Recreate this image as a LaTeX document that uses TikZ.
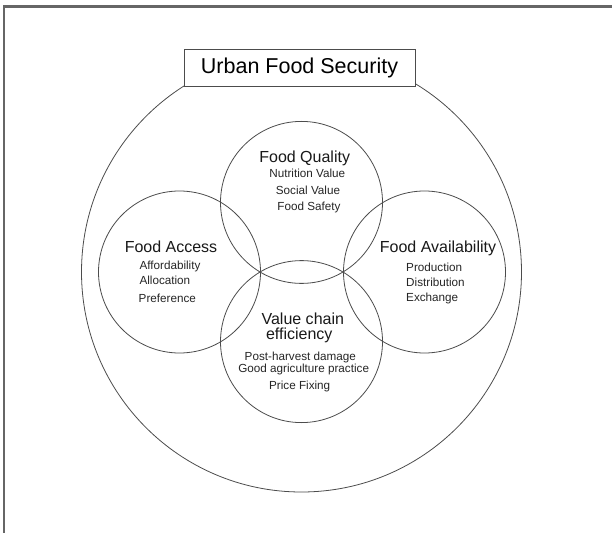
\documentclass[tikz,border=0pt]{standalone}
\usepackage{fontspec}
\setmainfont{Liberation Sans}
\begin{document}
\begin{tikzpicture}[x=1bp,y=-1bp,
  ring/.style={draw=black!70,line width=0.8bp,circle,inner sep=0pt,outer sep=0pt},
  frameline/.style={draw=black!60,line width=2.4bp},
  head/.style={text=black!90,font=\fontsize{16bp}{19bp}\selectfont,inner sep=0pt},
  item/.style={text=black!85,font=\fontsize{11.7bp}{14bp}\selectfont,inner sep=0pt},
  titlebox/.style={draw=black!70,line width=0.8bp,fill=white,minimum width=231bp,minimum height=37bp,inner sep=0pt,font=\fontsize{21.5bp}{25bp}\selectfont}
]
\useasboundingbox (0,0) rectangle (612,533);
\fill[white] (0,0) rectangle (612,533);
% frame
\coordinate (fc) at (4,6.5);
\coordinate (fr) at (612,6.5);
\coordinate (fb) at (4,533);
\draw[frameline] (fr) -- (fc) -- (fb);
% circles
\node[ring,minimum size=440bp] (outer) at (301.5,272) {};
\node[ring,minimum size=162bp] (quality) at (301.5,202.4) {};
\node[ring,minimum size=162bp] (access) at (179.5,272) {};
\node[ring,minimum size=162bp] (avail) at (424.5,272) {};
\node[ring,minimum size=162bp] (chain) at (301.5,341.6) {};
% title
\node[titlebox] (title) at (299.5,67.5) {Urban Food Security};
% Food Quality
\node[head,anchor=base] (qh) at (304.7,162.3) {Food Quality};
\node[item,anchor=base] (q1) at (307.3,177.3) {Nutrition Value};
\node[item,anchor=base] (q2) at (308,194.3) {Social Value};
\node[item,anchor=base] (q3) at (309,211) {Food Safety};
% Food Access
\node[head,anchor=base] (ah) at (171,252.7) {Food Access};
\node[item,anchor=base west] (a1) at (139.3,269) {Affordability};
\node[item,anchor=base west] (a2) at (139.3,284.3) {Allocation};
\node[item,anchor=base west] (a3) at (138.5,302.3) {Preference};
% Food Availability
\node[head,anchor=base] (vh) at (438,252.3) {Food Availability};
\node[item,anchor=base west] (v1) at (406,271.7) {Production};
\node[item,anchor=base west] (v2) at (406,286.7) {Distribution};
\node[item,anchor=base west] (v3) at (406,301.7) {Exchange};
% Value chain efficiency
\node[head,anchor=base] (ch1) at (302.8,324) {Value chain};
\node[head,anchor=base] (ch2) at (299.2,339.5) {efficiency};
\node[item,anchor=base] (c1) at (300.3,360.7) {Post-harvest damage};
\node[item,anchor=base] (c2) at (303.7,372.8) {Good agriculture practice};
\node[item,anchor=base] (c3) at (299.7,389.3) {Price Fixing};
\end{tikzpicture}
\end{document}
